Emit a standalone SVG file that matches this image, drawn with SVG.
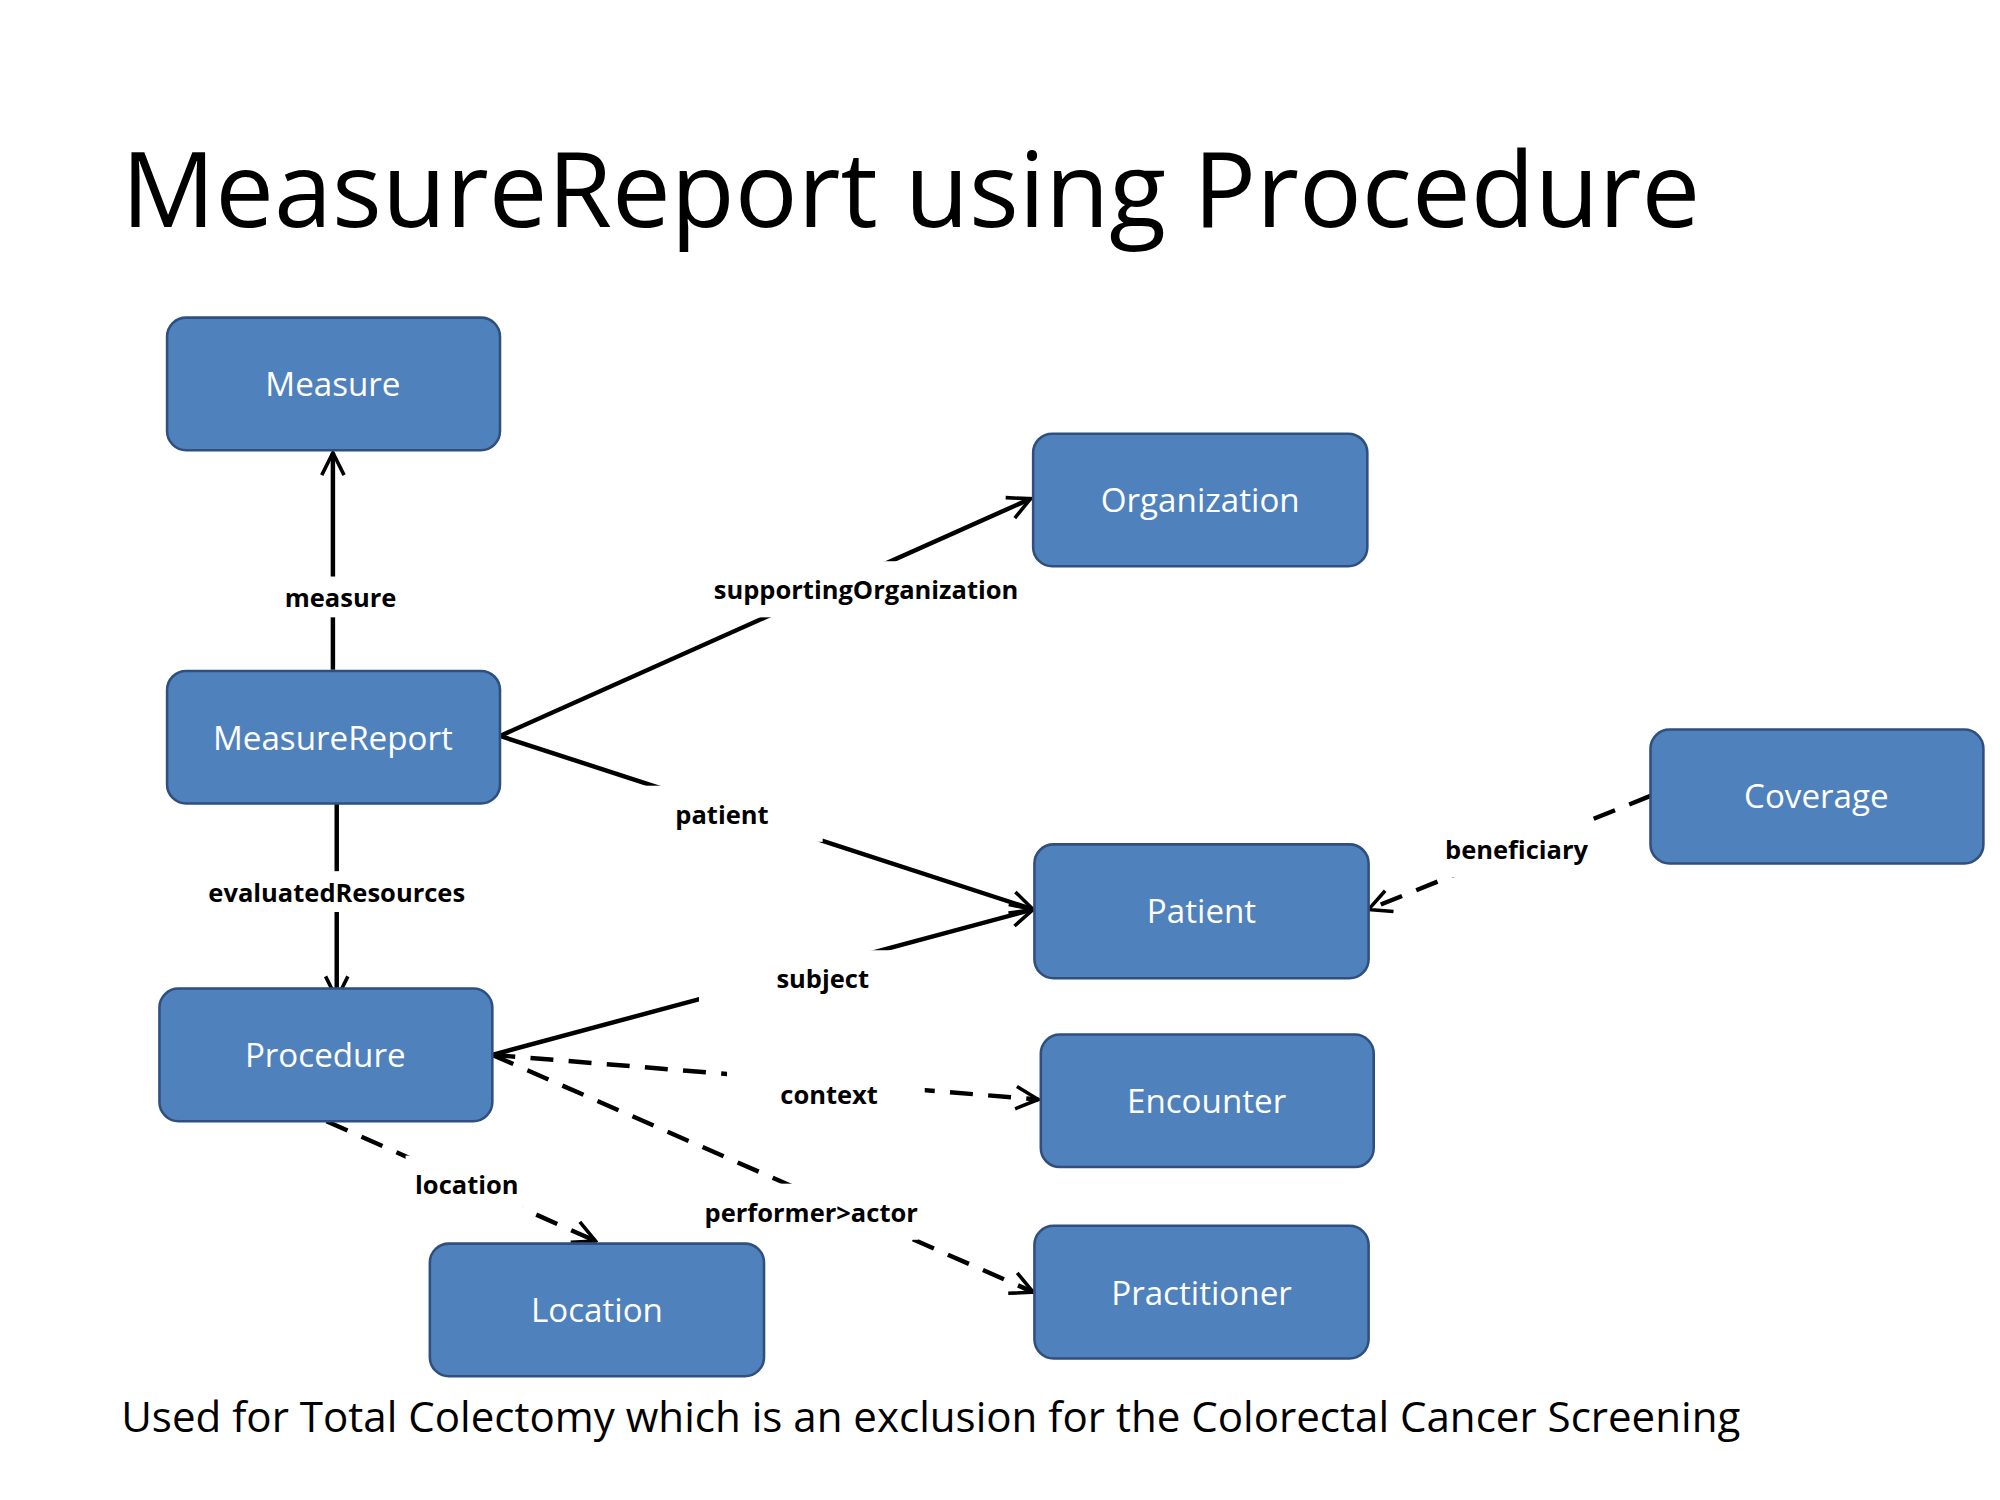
<svg xmlns="http://www.w3.org/2000/svg" width="2000" height="1500" viewBox="0 0 2000 1500">
<style>
.n{fill:#4F81BD;stroke:#2F4F7F;stroke-width:2}
.nt{fill:#fff;font-family:"Open Sans","Liberation Sans",sans-serif;font-size:26px;text-anchor:middle;dominant-baseline:central}
.e{stroke:#000;stroke-width:3.5;fill:none;marker-end:url(#a)}
.d{stroke-dasharray:18,12}
.lb{fill:#fff}
.lt{font-family:"Open Sans","Liberation Sans",sans-serif;font-size:20px;font-weight:bold;text-anchor:middle;dominant-baseline:central}
</style>
<defs><marker id="a" viewBox="0 0 12 12" refX="11" refY="6" markerWidth="6" markerHeight="6" orient="auto" markerUnits="strokeWidth"><path d="M1,1 L11,6 L1,11" fill="none" stroke="#000" stroke-width="1.6"/></marker></defs>
<rect width="2000" height="1500" fill="#fff"/>
<g transform="scale(1.2755)">
<text x="95" y="178" font-family="'Open Sans','Liberation Sans',sans-serif" font-size="82">MeasureReport using Procedure</text>
<text x="95" y="1123" font-family="'Open Sans','Liberation Sans',sans-serif" font-size="33">Used for Total Colectomy which is an exclusion for the Colorectal Cancer Screening</text>
<g id="edges">
<path class="e" d="M261,525 L261,355"/>
<path class="e" d="M392,577 L808,391"/>
<path class="e" d="M392,577 L810,713"/>
<path class="e" d="M386,827 L810,713"/>
<path class="e" d="M264,615 L264,783"/>
<path class="e d" d="M1294,624 L1073,713"/>
<path class="e d" d="M386,827 L814,862"/>
<path class="e d" d="M256,879 L467,973"/>
<path class="e d" d="M386,827 L810,1013"/>
<rect class="lb" x="220" y="452" width="95" height="32"/><text class="lt" x="267" y="468">measure</text>
<rect class="lb" x="560" y="440" width="240" height="44"/><text class="lt" x="679" y="462">supportingOrganization</text>
<rect class="lb" x="505" y="616" width="140" height="44"/><text class="lt" x="566" y="638">patient</text>
<rect class="lb" x="548" y="745" width="160" height="44"/><text class="lt" x="645" y="767">subject</text>
<rect class="lb" x="160" y="683" width="208" height="32"/><text class="lt" x="264" y="699">evaluatedResources</text>
<rect class="lb" x="1130" y="644" width="115" height="44"/><text class="lt" x="1189" y="666">beneficiary</text>
<rect class="lb" x="570" y="836" width="155" height="44"/><text class="lt" x="650" y="858">context</text>
<rect class="lb" x="318" y="906" width="92" height="44"/><text class="lt" x="366" y="928">location</text>
<rect class="lb" x="550" y="928" width="170" height="44"/><text class="lt" x="636" y="950">performer&gt;actor</text>
</g>
<g id="Measure"><rect class="n" x="131" y="249" width="261" height="104" rx="15"/><text class="nt" x="261" y="301">Measure</text></g>
<g id="Organization"><rect class="n" x="810" y="340" width="262" height="104" rx="15"/><text class="nt" x="941" y="392">Organization</text></g>
<g id="MeasureReport"><rect class="n" x="131" y="526" width="261" height="104" rx="15"/><text class="nt" x="261" y="578">MeasureReport</text></g>
<g id="Coverage"><rect class="n" x="1294" y="572" width="261" height="105" rx="15"/><text class="nt" x="1424" y="624">Coverage</text></g>
<g id="Patient"><rect class="n" x="811" y="662" width="262" height="105" rx="15"/><text class="nt" x="942" y="714">Patient</text></g>
<g id="Procedure"><rect class="n" x="125" y="775" width="261" height="104" rx="15"/><text class="nt" x="255" y="827">Procedure</text></g>
<g id="Encounter"><rect class="n" x="816" y="811" width="261" height="104" rx="15"/><text class="nt" x="946" y="863">Encounter</text></g>
<g id="Location"><rect class="n" x="337" y="975" width="262" height="104" rx="15"/><text class="nt" x="468" y="1027">Location</text></g>
<g id="Practitioner"><rect class="n" x="811" y="961" width="262" height="104" rx="15"/><text class="nt" x="942" y="1013">Practitioner</text></g>
</g>
</svg>
